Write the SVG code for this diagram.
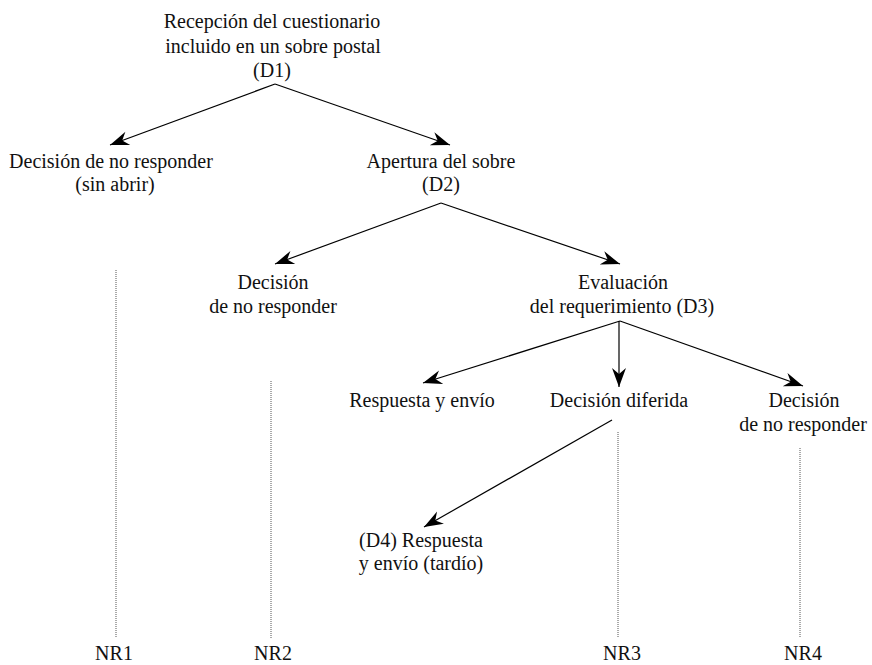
<svg xmlns="http://www.w3.org/2000/svg" width="872" height="665" viewBox="0 0 872 665">
<style>
.t text{font-size:20px;fill:#111;text-anchor:middle}
.c{stroke:#000;stroke-width:1.2;fill:none;marker-end:url(#ah)}
.d{stroke:#555;stroke-width:1;stroke-dasharray:1 1;fill:none}
</style>
<defs>
<marker id="ah" markerUnits="userSpaceOnUse" markerWidth="22" markerHeight="16" viewBox="-20 -8 22 16" refX="0" refY="0" orient="auto">
<path d="M0,0 L-19,-7 L-13,0 L-19,7 Z" fill="#000"/>
</marker>
</defs>
<rect width="872" height="665" fill="#fff"/>
<g id="connectors">
<line class="c" x1="275" y1="84" x2="110" y2="145"/>
<line class="c" x1="275" y1="84" x2="450" y2="145"/>
<line class="c" x1="441" y1="203" x2="275" y2="264"/>
<line class="c" x1="441" y1="203" x2="620" y2="264"/>
<line class="c" x1="620" y1="321" x2="423" y2="383"/>
<line class="c" x1="619" y1="321" x2="619" y2="387"/>
<line class="c" x1="620" y1="321" x2="803" y2="386"/>
<line class="c" x1="612" y1="420" x2="424" y2="527"/>
<line class="d" x1="116" y1="270" x2="116" y2="638"/>
<line class="d" x1="271" y1="381" x2="271" y2="638"/>
<line class="d" x1="618" y1="432" x2="618" y2="638"/>
<line class="d" x1="800" y1="448" x2="800" y2="638"/>
</g>
<g class="t" font-family="Liberation Serif, Times New Roman, serif">
<g id="d1">
<text x="272" y="28">Recepción del cuestionario</text>
<text x="273" y="53">incluido en un sobre postal</text>
<text x="272" y="77">(D1)</text>
</g>
<g id="nr-sin-abrir">
<text x="111" y="168">Decisión de no responder</text>
<text x="115" y="191">(sin abrir)</text>
</g>
<g id="d2">
<text x="441" y="168">Apertura del sobre</text>
<text x="441" y="191">(D2)</text>
</g>
<g id="nr-d2">
<text x="273" y="289">Decisión</text>
<text x="273" y="313">de no responder</text>
</g>
<g id="d3">
<text x="623" y="289">Evaluación</text>
<text x="622" y="313">del requerimiento (D3)</text>
</g>
<g id="respuesta">
<text x="422" y="407">Respuesta y envío</text>
</g>
<g id="diferida">
<text x="619" y="407">Decisión diferida</text>
</g>
<g id="nr-d3">
<text x="804" y="407">Decisión</text>
<text x="803" y="431">de no responder</text>
</g>
<g id="d4">
<text x="421" y="547">(D4) Respuesta</text>
<text x="421" y="570">y envío (tardío)</text>
</g>
<g id="nr1"><text x="114" y="660">NR1</text></g>
<g id="nr2"><text x="273" y="660">NR2</text></g>
<g id="nr3"><text x="622" y="660">NR3</text></g>
<g id="nr4"><text x="803" y="660">NR4</text></g>
</g>
</svg>
